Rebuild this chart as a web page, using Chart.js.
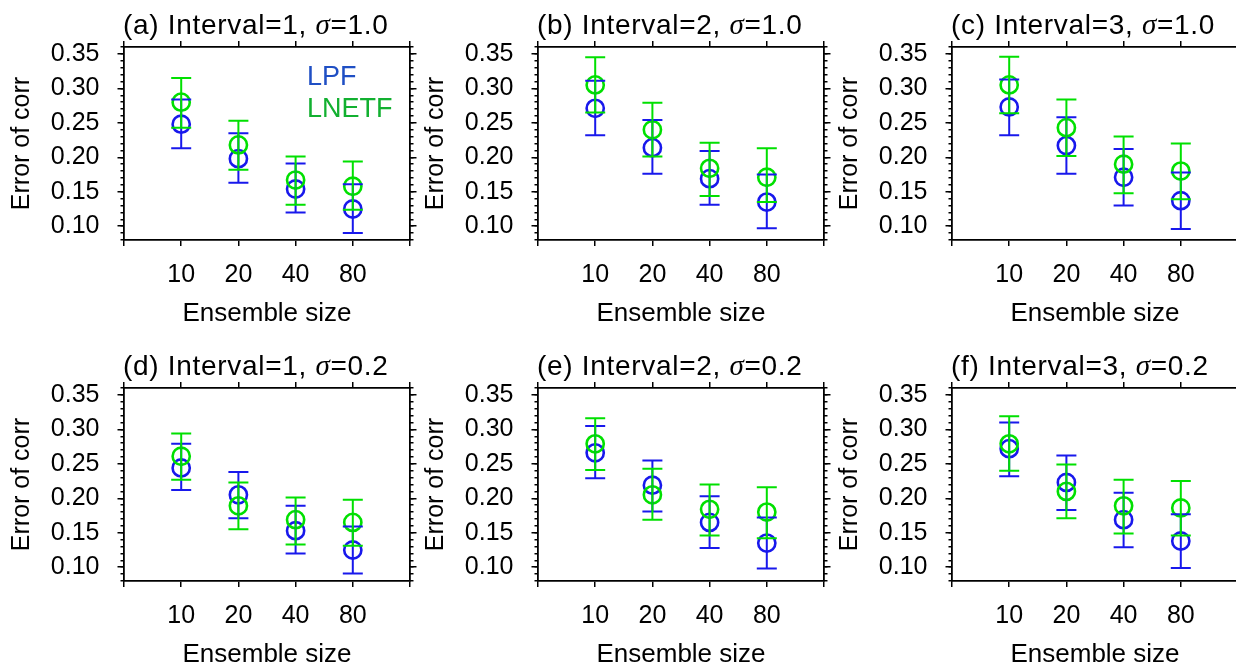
<!DOCTYPE html>
<html>
<head>
<meta charset="utf-8">
<script src="https://cdn.jsdelivr.net/npm/chart.js@4/dist/chart.umd.min.js"></script>
<style>
  html, body { margin: 0; padding: 0; background: #fff; overflow: hidden; }
  #wrap { position: relative; width: 1236px; height: 665px; overflow: hidden; background: #fff; }
  #wrap canvas { position: absolute; }
</style>
</head>
<body>
<div id="wrap"></div>
<script>
// Ensemble sizes on the x axis (placed at positions 1..4 of a 0..5 axis)
const ensembleSizes = ['10', '20', '40', '80'];
const ensemblePositions = [1, 2, 3, 4];
const xTickPositions = [0, 1, 2, 3, 4, 5];

// Panel headings
const panelLetters = ['a', 'b', 'c', 'd', 'e', 'f'];
const intervals = [1, 2, 3, 1, 2, 3];
const sigmas = ['1.0', '1.0', '1.0', '0.2', '0.2', '0.2'];

// y axis
const yRange = [0.08, 0.36];
const yTickValues = [0.10, 0.15, 0.20, 0.25, 0.30, 0.35];
const yMinorValues = [0.08, 0.09, 0.10, 0.11, 0.12, 0.13, 0.14, 0.15, 0.16, 0.17, 0.18, 0.19, 0.20,
  0.21, 0.22, 0.23, 0.24, 0.25, 0.26, 0.27, 0.28, 0.29, 0.30, 0.31, 0.32, 0.33, 0.34, 0.35, 0.36];

// LPF: mean error and error-bar ends, one row per panel (a..f)
const lpfMean = [
  [0.248, 0.198, 0.154, 0.125],
  [0.271, 0.214, 0.169, 0.135],
  [0.273, 0.217, 0.171, 0.137],
  [0.244, 0.205, 0.153, 0.125],
  [0.266, 0.219, 0.165, 0.135],
  [0.272, 0.223, 0.169, 0.138]
];
const lpfLow = [
  [0.213, 0.163, 0.120, 0.090],
  [0.232, 0.176, 0.131, 0.097],
  [0.232, 0.176, 0.130, 0.096],
  [0.212, 0.171, 0.120, 0.091],
  [0.229, 0.181, 0.128, 0.098],
  [0.232, 0.183, 0.129, 0.099]
];
const lpfHigh = [
  [0.284, 0.235, 0.191, 0.161],
  [0.311, 0.254, 0.209, 0.175],
  [0.313, 0.258, 0.212, 0.178],
  [0.279, 0.238, 0.189, 0.159],
  [0.305, 0.255, 0.203, 0.172],
  [0.310, 0.262, 0.208, 0.177]
];

// LNETF: mean error and error-bar ends
const lnetfMean = [
  [0.280, 0.218, 0.167, 0.158],
  [0.305, 0.240, 0.184, 0.171],
  [0.305, 0.243, 0.190, 0.180],
  [0.261, 0.189, 0.169, 0.165],
  [0.279, 0.205, 0.184, 0.180],
  [0.279, 0.210, 0.189, 0.186]
];
const lnetfLow = [
  [0.243, 0.182, 0.131, 0.124],
  [0.265, 0.201, 0.144, 0.135],
  [0.264, 0.202, 0.148, 0.139],
  [0.227, 0.155, 0.133, 0.131],
  [0.241, 0.169, 0.146, 0.142],
  [0.240, 0.171, 0.149, 0.146]
];
const lnetfHigh = [
  [0.315, 0.253, 0.201, 0.194],
  [0.345, 0.279, 0.221, 0.213],
  [0.346, 0.284, 0.230, 0.220],
  [0.294, 0.223, 0.201, 0.198],
  [0.316, 0.243, 0.220, 0.216],
  [0.319, 0.249, 0.227, 0.225]
];

const LPF_COLOR = 'rgb(24,24,236)';
const LNETF_COLOR = 'rgb(0,224,0)';
const LPF_TEXT = '#1f4fc4';
const LNETF_TEXT = '#12b030';
const FONT = '"Liberation Sans", Arial, sans-serif';

// Panel geometry
const CANVAS_W = 424, CANVAS_H = 341;
const colLeft = [0, 414, 828];
const rowTop = [0, 341];
const AREA_LEFT = 124, AREA_TOP = 47, AREA_W = 287, AREA_H = 193;

Chart.defaults.font.family = FONT;
Chart.defaults.color = '#000';

// Vertical error bars with caps, drawn after all markers
const errorBars = {
  id: 'errorBars',
  afterDatasetsDraw(chart) {
    const { ctx } = chart;
    const xs = chart.scales.x, ys = chart.scales.y;
    ctx.save();
    chart.data.datasets.forEach(ds => {
      ctx.strokeStyle = ds.borderColor;
      ctx.lineWidth = 2;
      ds.data.forEach((pt, i) => {
        const x = xs.getPixelForValue(pt.x);
        const y1 = ys.getPixelForValue(ds.errLow[i]);
        const y2 = ys.getPixelForValue(ds.errHigh[i]);
        ctx.beginPath();
        ctx.moveTo(x, y1); ctx.lineTo(x, y2);
        ctx.moveTo(x - 10, y1); ctx.lineTo(x + 10, y1);
        ctx.moveTo(x - 10, y2); ctx.lineTo(x + 10, y2);
        ctx.stroke();
      });
    });
    ctx.restore();
  }
};

// Panel heading with an italic sigma
const panelTitle = {
  id: 'panelTitle',
  afterDraw(chart, args, opts) {
    const { ctx, chartArea } = chart;
    ctx.save();
    ctx.fillStyle = '#000';
    ctx.textBaseline = 'middle';
    ctx.textAlign = 'left';
    if ('letterSpacing' in ctx) ctx.letterSpacing = '0.7px';
    let x = chartArea.left - 1;
    const y = chartArea.top - 21;
    opts.segments.forEach(seg => {
      ctx.font = seg.font;
      ctx.fillText(seg.text, x, y);
      x += ctx.measureText(seg.text).width;
    });
    ctx.restore();
  }
};

// Series names written inside the first panel
const innerLegend = {
  id: 'innerLegend',
  afterDraw(chart, args, opts) {
    if (!opts.show) return;
    const { ctx, chartArea } = chart;
    ctx.save();
    ctx.font = '27px ' + FONT;
    ctx.textAlign = 'left';
    ctx.textBaseline = 'alphabetic';
    ctx.fillStyle = LPF_TEXT;
    ctx.fillText('LPF', chartArea.left + 183, chartArea.top + 38);
    ctx.fillStyle = LNETF_TEXT;
    ctx.fillText('LNETF', chartArea.left + 183, chartArea.top + 70);
    ctx.restore();
  }
};

const frameGrid = (len) => ({
  display: true, drawOnChartArea: false, drawTicks: true,
  tickLength: len, color: '#000', tickColor: '#000', lineWidth: 1.5
});
const frameBorder = { display: true, color: '#000', width: 1.8 };

function makePanel(p) {
  const canvas = document.createElement('canvas');
  canvas.width = CANVAS_W;
  canvas.height = CANVAS_H;
  canvas.style.left = colLeft[p % 3] + 'px';
  canvas.style.top = rowTop[Math.floor(p / 3)] + 'px';
  canvas.style.width = CANVAS_W + 'px';
  canvas.style.height = CANVAS_H + 'px';
  document.getElementById('wrap').appendChild(canvas);

  const pts = arr => arr.map((v, i) => ({ x: ensemblePositions[i], y: v }));
  const xTicks = s => { s.ticks = xTickPositions.map(v => ({ value: v })); };
  const yMajor = s => { s.ticks = yTickValues.map(v => ({ value: v })); };
  const yMinor = s => { s.ticks = yMinorValues.map(v => ({ value: v })); };

  new Chart(canvas, {
    type: 'scatter',
    data: {
      datasets: [
        {
          label: 'LPF', order: 1,
          data: pts(lpfMean[p]), errLow: lpfLow[p], errHigh: lpfHigh[p],
          borderColor: LPF_COLOR, backgroundColor: 'rgba(0,0,0,0)',
          pointStyle: 'circle', pointRadius: 8.6, pointBorderWidth: 2.6, showLine: false
        },
        {
          label: 'LNETF', order: 0,
          data: pts(lnetfMean[p]), errLow: lnetfLow[p], errHigh: lnetfHigh[p],
          borderColor: LNETF_COLOR, backgroundColor: 'rgba(0,0,0,0)',
          pointStyle: 'circle', pointRadius: 8.6, pointBorderWidth: 2.6, showLine: false
        }
      ]
    },
    options: {
      responsive: false, animation: false, devicePixelRatio: 1,
      layout: { padding: 0 },
      plugins: {
        legend: { display: false }, tooltip: { enabled: false },
        panelTitle: {
          segments: [
            { text: '(' + panelLetters[p] + ') Interval=' + intervals[p] + ', ', font: '28px ' + FONT },
            { text: 'σ', font: 'italic 29px "Liberation Serif"' },
            { text: '=' + sigmas[p], font: '28px ' + FONT }
          ]
        },
        innerLegend: { show: p === 0 }
      },
      scales: {
        x: {
          type: 'linear', position: 'bottom', min: 0, max: 5,
          afterBuildTicks: xTicks,
          ticks: {
            autoSkip: false, maxRotation: 0, padding: 14, color: '#000', font: { size: 25 },
            callback: v => (v >= 1 && v <= 4) ? ensembleSizes[v - 1] : ''
          },
          grid: frameGrid(6), border: frameBorder,
          title: { display: true, text: 'Ensemble size', color: '#000', font: { size: 26 }, padding: { top: 0, bottom: 12 } },
          afterFit: s => { s.height = CANVAS_H - AREA_TOP - AREA_H; }
        },
        xTop: {
          type: 'linear', position: 'top', min: 0, max: 5,
          afterBuildTicks: xTicks,
          ticks: { display: false },
          grid: frameGrid(6), border: frameBorder,
          afterFit: s => { s.height = AREA_TOP; }
        },
        y: {
          type: 'linear', position: 'left', weight: 1, min: yRange[0], max: yRange[1],
          afterBuildTicks: yMajor,
          ticks: { padding: 18, color: '#000', font: { size: 25 }, callback: v => v.toFixed(2) },
          grid: frameGrid(6.5), border: frameBorder,
          title: { display: true, text: 'Error of corr', color: '#000', font: { size: 25 }, padding: { top: 7, bottom: 0 } },
          afterFit: s => { s.width = AREA_LEFT; }
        },
        yMinorLeft: {
          type: 'linear', position: 'left', weight: 0, min: yRange[0], max: yRange[1],
          afterBuildTicks: yMinor,
          ticks: { display: false },
          grid: frameGrid(3.5), border: { display: false },
          afterFit: s => { s.width = 0; }
        },
        yRight: {
          type: 'linear', position: 'right', weight: 1, min: yRange[0], max: yRange[1],
          afterBuildTicks: yMajor,
          ticks: { display: false },
          grid: frameGrid(6.5), border: frameBorder,
          afterFit: s => { s.width = CANVAS_W - AREA_LEFT - AREA_W; }
        },
        yMinorRight: {
          type: 'linear', position: 'right', weight: 0, min: yRange[0], max: yRange[1],
          afterBuildTicks: yMinor,
          ticks: { display: false },
          grid: frameGrid(3.5), border: { display: false },
          afterFit: s => { s.width = 0; }
        }
      }
    },
    plugins: [errorBars, panelTitle, innerLegend]
  });
}

for (let p = 0; p < 6; p++) makePanel(p);
</script>
</body>
</html>
